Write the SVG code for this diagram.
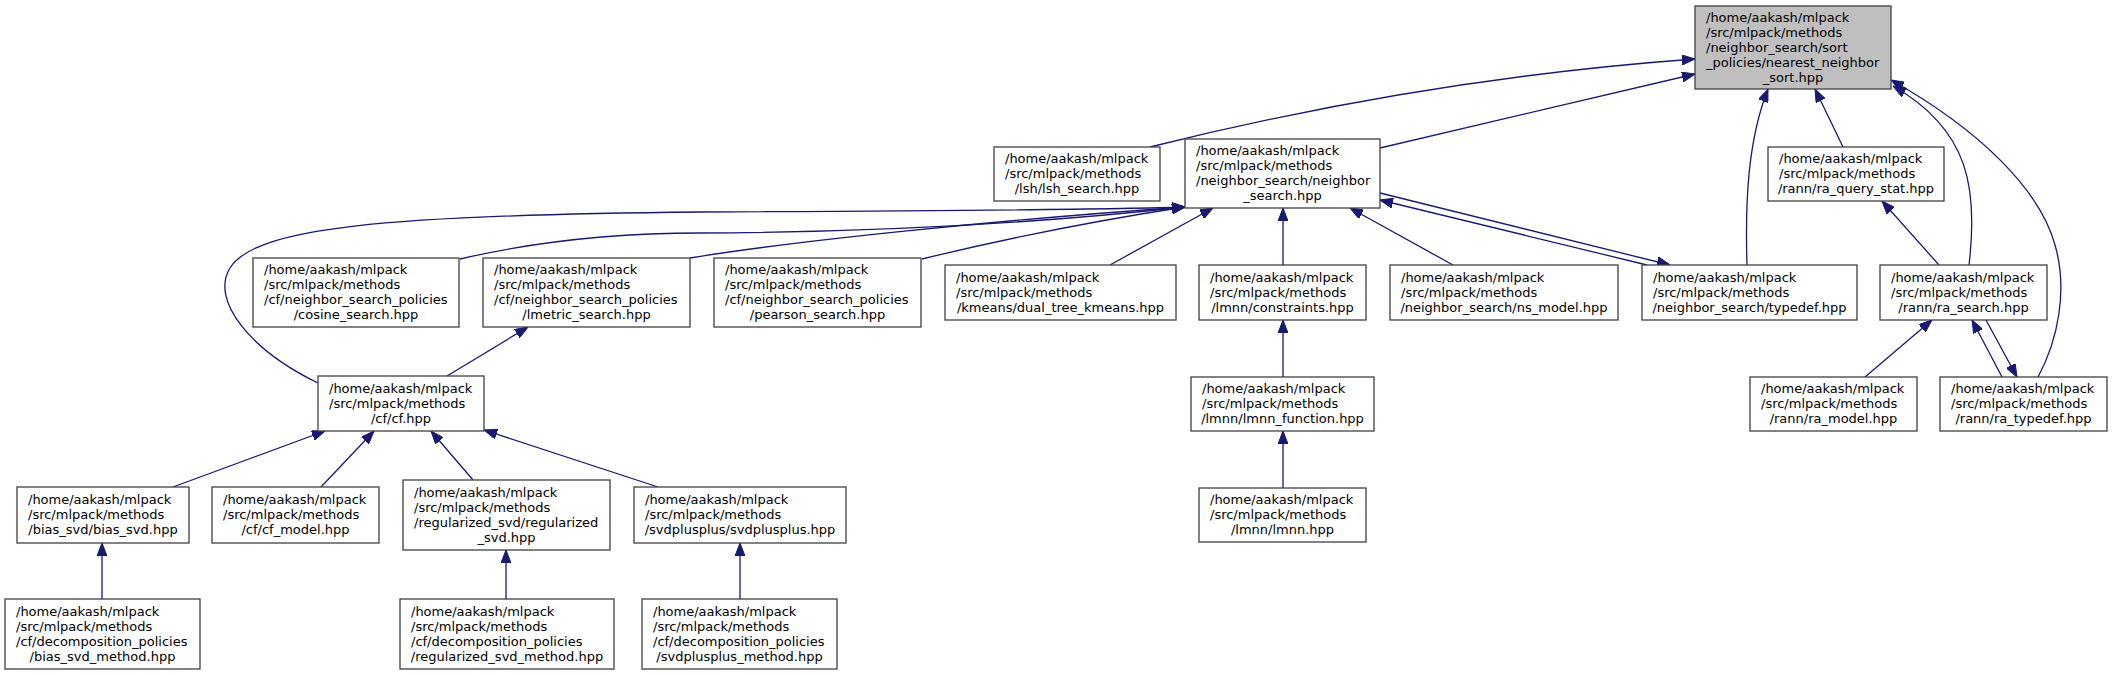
<svg xmlns="http://www.w3.org/2000/svg" width="2113" height="675" viewBox="0 0 2113 675">
<style>
rect.n{fill:#ffffff;stroke:#404040;stroke-width:1.3}
rect.root{fill:#bfbfbf;stroke:#404040;stroke-width:1.3}
text{font-family:"DejaVu Sans",sans-serif;font-size:13px;fill:#000}
text.c{text-anchor:middle}
#edges path{fill:none;stroke:#191970;stroke-width:1.3;marker-end:url(#ah)}
</style>
<defs>
<marker id="ah" viewBox="0 0 13 10" refX="13" refY="5" markerWidth="13" markerHeight="10" markerUnits="userSpaceOnUse" orient="auto">
<path d="M0,0 L13,5 L0,10 z" fill="#191970" stroke="#191970" stroke-width="1"/>
</marker>
</defs>
<rect width="2113" height="675" fill="#ffffff"/>
<g id="edges">
<path d="M1150,147 Q1422,79 1695,59"/>
<path d="M1380,148 L1695,74"/>
<path d="M1747,265 C1745,200 1748,140 1768,89"/>
<path d="M1843,147 L1815,89"/>
<path d="M1969,265 C1978,190 1970,130 1893,86"/>
<path d="M2038,377 C2058,340 2068,290 2055,245 C2040,190 1980,130 1891,80"/>
<path d="M318,383 C250,350 210,300 230,268 C255,228 380,215 700,212 C900,211 1100,210 1185,207"/>
<path d="M460,259 C520,245 600,233 700,233 C900,232 1050,222 1185,207"/>
<path d="M690,258 C800,240 1000,220 1185,207"/>
<path d="M922,259 C1000,240 1100,220 1185,207"/>
<path d="M1110,265 L1213,208"/>
<path d="M1283,265 L1283,208"/>
<path d="M1453,265 L1350,208"/>
<path d="M1647,265 L1380,200"/>
<path d="M1380,193 L1670,265"/>
<path d="M447,376 L528,327"/>
<path d="M173,487 L325,431"/>
<path d="M321,487 L374,431"/>
<path d="M473,480 L431,431"/>
<path d="M658,487 L484,430"/>
<path d="M102,599 L102,543"/>
<path d="M506,599 L506,550"/>
<path d="M740,599 L740,543"/>
<path d="M1283,377 L1283,320"/>
<path d="M1283,488 L1283,431"/>
<path d="M1939,265 L1882,201"/>
<path d="M1865,377 L1932,320"/>
<path d="M2002,377 L1972,320"/>
<path d="M1986,320 L2017,377"/>
</g>
<g id="root">
<rect class="root" x="1695" y="6" width="196" height="83"/>
<text><tspan x="1706" y="21.5">/home/aakash/mlpack</tspan><tspan x="1706" y="36.5">/src/mlpack/methods</tspan><tspan x="1706" y="51.5">/neighbor_search/sort</tspan><tspan x="1706" y="66.5">_policies/nearest_neighbor</tspan></text>
<text class="c" x="1793" y="81.5">_sort.hpp</text>
</g>
<g id="lsh_search">
<rect class="n" x="994" y="147" width="166" height="54"/>
<text><tspan x="1005" y="163">/home/aakash/mlpack</tspan><tspan x="1005" y="178">/src/mlpack/methods</tspan></text>
<text class="c" x="1077" y="193">/lsh/lsh_search.hpp</text>
</g>
<g id="neighbor_search">
<rect class="n" x="1185" y="139" width="195" height="69"/>
<text><tspan x="1196" y="155">/home/aakash/mlpack</tspan><tspan x="1196" y="170">/src/mlpack/methods</tspan><tspan x="1196" y="185">/neighbor_search/neighbor</tspan></text>
<text class="c" x="1282.5" y="200">_search.hpp</text>
</g>
<g id="ra_query_stat">
<rect class="n" x="1768" y="147" width="176" height="54"/>
<text><tspan x="1779" y="163">/home/aakash/mlpack</tspan><tspan x="1779" y="178">/src/mlpack/methods</tspan></text>
<text class="c" x="1856" y="193">/rann/ra_query_stat.hpp</text>
</g>
<g id="cosine_search">
<rect class="n" x="253" y="258" width="206" height="69"/>
<text><tspan x="264" y="274">/home/aakash/mlpack</tspan><tspan x="264" y="289">/src/mlpack/methods</tspan><tspan x="264" y="304">/cf/neighbor_search_policies</tspan></text>
<text class="c" x="356" y="319">/cosine_search.hpp</text>
</g>
<g id="lmetric_search">
<rect class="n" x="483" y="258" width="207" height="69"/>
<text><tspan x="494" y="274">/home/aakash/mlpack</tspan><tspan x="494" y="289">/src/mlpack/methods</tspan><tspan x="494" y="304">/cf/neighbor_search_policies</tspan></text>
<text class="c" x="586.5" y="319">/lmetric_search.hpp</text>
</g>
<g id="pearson_search">
<rect class="n" x="714" y="258" width="207" height="69"/>
<text><tspan x="725" y="274">/home/aakash/mlpack</tspan><tspan x="725" y="289">/src/mlpack/methods</tspan><tspan x="725" y="304">/cf/neighbor_search_policies</tspan></text>
<text class="c" x="817.5" y="319">/pearson_search.hpp</text>
</g>
<g id="dual_tree_kmeans">
<rect class="n" x="945" y="265" width="231" height="55"/>
<text><tspan x="956" y="281.5">/home/aakash/mlpack</tspan><tspan x="956" y="296.5">/src/mlpack/methods</tspan></text>
<text class="c" x="1060.5" y="311.5">/kmeans/dual_tree_kmeans.hpp</text>
</g>
<g id="constraints">
<rect class="n" x="1199" y="265" width="167" height="55"/>
<text><tspan x="1210" y="281.5">/home/aakash/mlpack</tspan><tspan x="1210" y="296.5">/src/mlpack/methods</tspan></text>
<text class="c" x="1282.5" y="311.5">/lmnn/constraints.hpp</text>
</g>
<g id="ns_model">
<rect class="n" x="1390" y="265" width="228" height="55"/>
<text><tspan x="1401" y="281.5">/home/aakash/mlpack</tspan><tspan x="1401" y="296.5">/src/mlpack/methods</tspan></text>
<text class="c" x="1504" y="311.5">/neighbor_search/ns_model.hpp</text>
</g>
<g id="ns_typedef">
<rect class="n" x="1642" y="265" width="215" height="55"/>
<text><tspan x="1653" y="281.5">/home/aakash/mlpack</tspan><tspan x="1653" y="296.5">/src/mlpack/methods</tspan></text>
<text class="c" x="1749.5" y="311.5">/neighbor_search/typedef.hpp</text>
</g>
<g id="ra_search">
<rect class="n" x="1880" y="265" width="167" height="55"/>
<text><tspan x="1891" y="281.5">/home/aakash/mlpack</tspan><tspan x="1891" y="296.5">/src/mlpack/methods</tspan></text>
<text class="c" x="1963.5" y="311.5">/rann/ra_search.hpp</text>
</g>
<g id="cf">
<rect class="n" x="318" y="376" width="166" height="55"/>
<text><tspan x="329" y="392.5">/home/aakash/mlpack</tspan><tspan x="329" y="407.5">/src/mlpack/methods</tspan></text>
<text class="c" x="401" y="422.5">/cf/cf.hpp</text>
</g>
<g id="lmnn_function">
<rect class="n" x="1191" y="377" width="183" height="54"/>
<text><tspan x="1202" y="393">/home/aakash/mlpack</tspan><tspan x="1202" y="408">/src/mlpack/methods</tspan></text>
<text class="c" x="1282.5" y="423">/lmnn/lmnn_function.hpp</text>
</g>
<g id="ra_model">
<rect class="n" x="1750" y="377" width="167" height="54"/>
<text><tspan x="1761" y="393">/home/aakash/mlpack</tspan><tspan x="1761" y="408">/src/mlpack/methods</tspan></text>
<text class="c" x="1833.5" y="423">/rann/ra_model.hpp</text>
</g>
<g id="ra_typedef">
<rect class="n" x="1940" y="377" width="167" height="54"/>
<text><tspan x="1951" y="393">/home/aakash/mlpack</tspan><tspan x="1951" y="408">/src/mlpack/methods</tspan></text>
<text class="c" x="2023.5" y="423">/rann/ra_typedef.hpp</text>
</g>
<g id="bias_svd">
<rect class="n" x="17" y="487" width="172" height="56"/>
<text><tspan x="28" y="504">/home/aakash/mlpack</tspan><tspan x="28" y="519">/src/mlpack/methods</tspan></text>
<text class="c" x="103" y="534">/bias_svd/bias_svd.hpp</text>
</g>
<g id="cf_model">
<rect class="n" x="212" y="487" width="167" height="56"/>
<text><tspan x="223" y="504">/home/aakash/mlpack</tspan><tspan x="223" y="519">/src/mlpack/methods</tspan></text>
<text class="c" x="295.5" y="534">/cf/cf_model.hpp</text>
</g>
<g id="regularized_svd">
<rect class="n" x="403" y="480" width="207" height="70"/>
<text><tspan x="414" y="496.5">/home/aakash/mlpack</tspan><tspan x="414" y="511.5">/src/mlpack/methods</tspan><tspan x="414" y="526.5">/regularized_svd/regularized</tspan></text>
<text class="c" x="506.5" y="541.5">_svd.hpp</text>
</g>
<g id="svdplusplus">
<rect class="n" x="634" y="487" width="212" height="56"/>
<text><tspan x="645" y="504">/home/aakash/mlpack</tspan><tspan x="645" y="519">/src/mlpack/methods</tspan></text>
<text class="c" x="740" y="534">/svdplusplus/svdplusplus.hpp</text>
</g>
<g id="lmnn">
<rect class="n" x="1199" y="488" width="167" height="54"/>
<text><tspan x="1210" y="504">/home/aakash/mlpack</tspan><tspan x="1210" y="519">/src/mlpack/methods</tspan></text>
<text class="c" x="1282.5" y="534">/lmnn/lmnn.hpp</text>
</g>
<g id="bias_svd_method">
<rect class="n" x="5" y="599" width="195" height="70"/>
<text><tspan x="16" y="615.5">/home/aakash/mlpack</tspan><tspan x="16" y="630.5">/src/mlpack/methods</tspan><tspan x="16" y="645.5">/cf/decomposition_policies</tspan></text>
<text class="c" x="102.5" y="660.5">/bias_svd_method.hpp</text>
</g>
<g id="regularized_svd_method">
<rect class="n" x="400" y="599" width="214" height="70"/>
<text><tspan x="411" y="615.5">/home/aakash/mlpack</tspan><tspan x="411" y="630.5">/src/mlpack/methods</tspan><tspan x="411" y="645.5">/cf/decomposition_policies</tspan></text>
<text class="c" x="507" y="660.5">/regularized_svd_method.hpp</text>
</g>
<g id="svdplusplus_method">
<rect class="n" x="642" y="599" width="195" height="70"/>
<text><tspan x="653" y="615.5">/home/aakash/mlpack</tspan><tspan x="653" y="630.5">/src/mlpack/methods</tspan><tspan x="653" y="645.5">/cf/decomposition_policies</tspan></text>
<text class="c" x="739.5" y="660.5">/svdplusplus_method.hpp</text>
</g>
</svg>
